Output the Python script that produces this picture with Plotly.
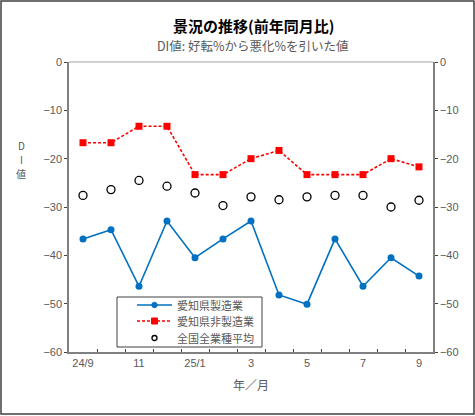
import plotly.graph_objects as go

months = ["24/9", "10", "11", "12", "25/1", "2", "3", "4", "5", "6", "7", "8", "9"]
tick_labels = ["24/9", "", "11", "", "25/1", "", "3", "", "5", "", "7", "", "9"]
aichi_mfg = [-36.6, -34.7, -46.4, -32.9, -40.5, -36.6, -32.9, -48.2, -50.1, -36.6, -46.4, -40.5, -44.3]
aichi_nonmfg = [-16.7, -16.7, -13.3, -13.3, -23.3, -23.3, -20.0, -18.3, -23.3, -23.3, -23.3, -20.0, -21.7]
national = [-27.6, -26.4, -24.5, -25.7, -27.1, -29.7, -27.9, -28.5, -27.9, -27.6, -27.6, -30.0, -28.6]
series_names = ["愛知県製造業", "愛知県非製造業", "全国全業種平均"]
y_ticks = [0, -10, -20, -30, -40, -50, -60]
y_tick_text = ["0", "−10", "−20", "−30", "−40", "−50", "−60"]

idx = list(range(len(months)))
FONT = "Liberation Sans, Arial, Noto Sans CJK JP"
JP = "Noto Sans CJK JP"
AX = "#808080"
TXT = "#595959"
BLUE = "#0070C0"
RED = "#FF0000"

fig = go.Figure()
fig.add_trace(go.Scatter(x=idx, y=aichi_mfg, name=series_names[0], mode="lines+markers",
                         line=dict(color=BLUE, width=1.6),
                         marker=dict(symbol="circle", size=7, color=BLUE), showlegend=False))
fig.add_trace(go.Scatter(x=idx, y=aichi_nonmfg, name=series_names[1], mode="lines+markers",
                         line=dict(color=RED, width=1.6, dash="3px,2px"),
                         marker=dict(symbol="square", size=7, color=RED), showlegend=False))
fig.add_trace(go.Scatter(x=idx, y=national, name=series_names[2], mode="markers",
                         marker=dict(symbol="circle-open", size=8, color="#000000",
                                     line=dict(width=1.3, color="#000000")), showlegend=False))
fig.add_trace(go.Scatter(x=idx, y=national, yaxis="y2", mode="markers",
                         marker=dict(opacity=0), showlegend=False, hoverinfo="skip"))

L, R, T, B = 69, 42, 62, 64
W, H = 475, 416
pw, ph = W - L - R, H - T - B

def px(x):
    return (x - L) / pw

def py(y):
    return (H - B - y) / ph

fig.update_layout(
    width=W, height=H,
    margin=dict(l=L, r=R, t=T, b=B),
    paper_bgcolor="white", plot_bgcolor="white",
    font=dict(family=FONT, size=11, color=TXT),
    showlegend=False,
    xaxis=dict(range=[-0.5, 12.5], tickmode="array", tickvals=idx, ticktext=tick_labels,
               showgrid=False, zeroline=False, showline=True, linecolor=AX, linewidth=1.5,
               ticks="", ticklen=0,
               tickfont=dict(family=FONT, size=11, color=TXT),
               minor=dict(tickvals=[i + 0.5 for i in range(12)], ticks="inside",
                          ticklen=3, tickwidth=1, tickcolor="#404040", showgrid=False),
               title=dict(text="年／月", font=dict(family=JP, size=12, color=TXT), standoff=14)),
    yaxis=dict(range=[-60, 0], tickvals=y_ticks, ticktext=y_tick_text,
               showgrid=False, zeroline=False, showline=True, linecolor=AX, linewidth=1.5,
               ticks="outside", ticklen=3, tickcolor="#404040",
               tickfont=dict(family=FONT, size=11, color=TXT)),
    yaxis2=dict(range=[-60, 0], overlaying="y", side="right",
                tickvals=y_ticks, ticktext=y_tick_text,
                showgrid=False, zeroline=False, showline=True, linecolor=AX, linewidth=1.5,
                ticks="outside", ticklen=3, tickcolor="#404040",
                tickfont=dict(family=FONT, size=11, color=TXT)),
)

# top frame line of the plot area
fig.add_shape(type="line", xref="paper", yref="paper", x0=0, x1=1, y0=1, y1=1,
              line=dict(color="#C0C0C0", width=1.5))
# outer chart border
fig.add_shape(type="rect", xref="paper", yref="paper",
              x0=px(1), x1=px(474), y0=py(414), y1=py(1),
              line=dict(color="#404040", width=1.5), fillcolor="rgba(0,0,0,0)")

# legend (compact, Excel style)
fig.add_shape(type="rect", xref="paper", yref="paper",
              x0=px(117), x1=px(262), y0=py(347), y1=py(297),
              line=dict(color="#404040", width=1), fillcolor="white", layer="above")
rows = [305, 321, 338]
lx0, lx1, lxm = 137, 172, 154.5
# row 1: blue solid line + dot
fig.add_shape(type="line", xref="paper", yref="paper", x0=px(lx0), x1=px(lx1),
              y0=py(rows[0]), y1=py(rows[0]), line=dict(color=BLUE, width=1.6), layer="above")
fig.add_shape(type="circle", xref="paper", yref="paper", x0=px(lxm - 2.7), x1=px(lxm + 2.7),
              y0=py(rows[0] + 2.7), y1=py(rows[0] - 2.7),
              line=dict(color=BLUE, width=1), fillcolor=BLUE, layer="above")
# row 2: red dashed line + square
fig.add_shape(type="line", xref="paper", yref="paper", x0=px(lx0), x1=px(lx1),
              y0=py(rows[1]), y1=py(rows[1]), line=dict(color=RED, width=1.6, dash="3px,2px"),
              layer="above")
fig.add_shape(type="rect", xref="paper", yref="paper", x0=px(lxm - 3), x1=px(lxm + 3),
              y0=py(rows[1] + 3), y1=py(rows[1] - 3),
              line=dict(color=RED, width=1), fillcolor=RED, layer="above")
# row 3: open circle
fig.add_shape(type="circle", xref="paper", yref="paper", x0=px(lxm - 2.5), x1=px(lxm + 2.5),
              y0=py(rows[2] + 2.5), y1=py(rows[2] - 2.5),
              line=dict(color="#000000", width=1.3), fillcolor="white", layer="above")
for name, ry in zip(series_names, rows):
    fig.add_annotation(text=name, xref="paper", yref="paper", x=px(175), y=py(ry),
                       xanchor="left", yanchor="middle", showarrow=False,
                       font=dict(family=JP, size=11, color=TXT))

fig.add_annotation(text="<b>景況の推移(前年同月比)</b>", xref="paper", yref="paper",
                   x=px(253), y=py(26), xanchor="center", yanchor="middle", showarrow=False,
                   font=dict(family=JP, size=15, color="#000000"))
fig.add_annotation(text="DI値: 好転%から悪化%を引いた値", xref="paper", yref="paper",
                   x=px(253), y=py(46), xanchor="center", yanchor="middle", showarrow=False,
                   font=dict(family=JP, size=12.5, color=TXT))
for ch, yy in (("D", 145), ("I", 159), ("値", 173)):
    fig.add_annotation(text=ch, xref="paper", yref="paper", borderpad=0,
                       x=px(21), y=py(yy), xanchor="center", yanchor="middle", showarrow=False,
                       font=dict(family=JP, size=10, color=TXT))

fig.write_html("out.html", config={"displayModeBar": False},
               post_script="document.body.style.margin='0';")
